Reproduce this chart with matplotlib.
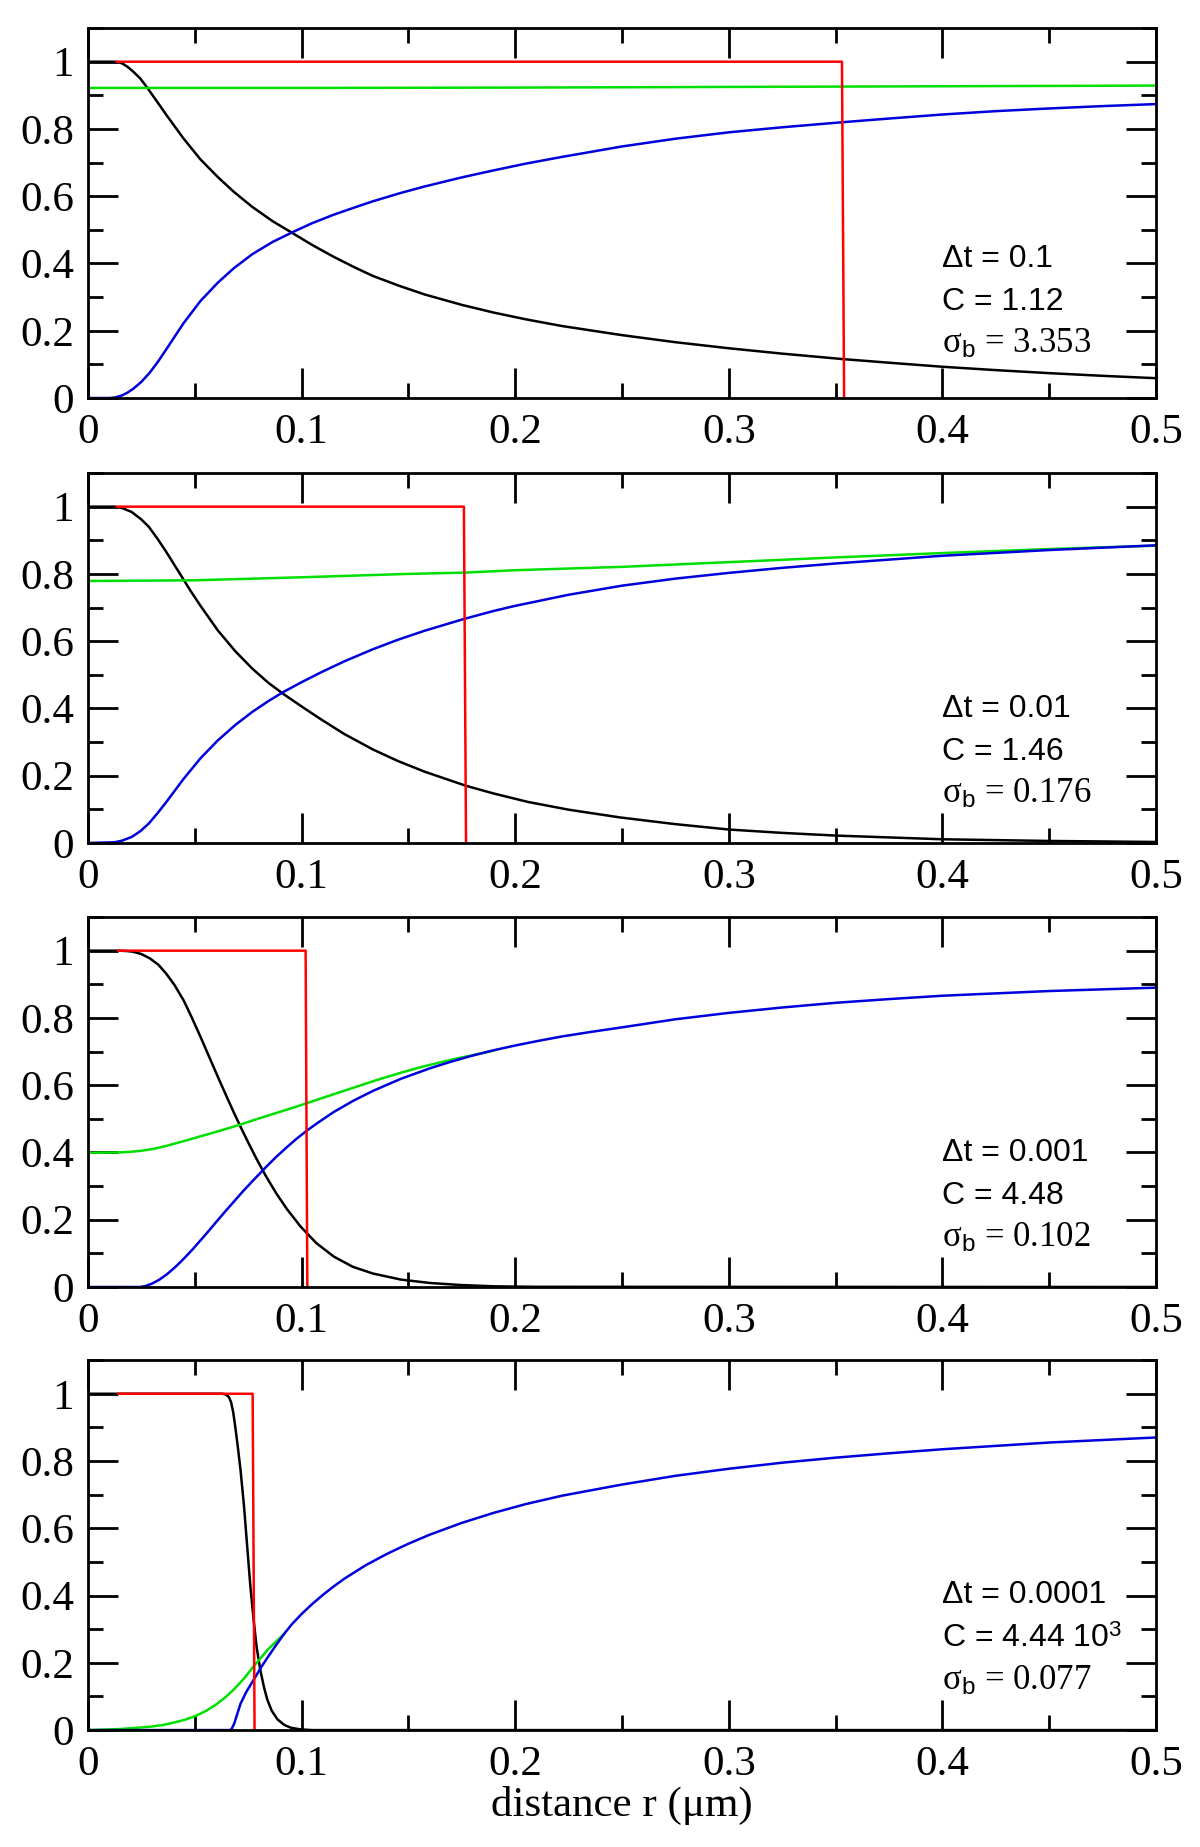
import matplotlib
matplotlib.use('Agg')
import matplotlib.pyplot as plt
from matplotlib.ticker import MultipleLocator

plt.rcParams['font.family'] = ['Liberation Serif', 'DejaVu Serif']
plt.rcParams['mathtext.fontset'] = 'custom'
plt.rcParams['mathtext.rm'] = 'Liberation Serif'
plt.rcParams['mathtext.it'] = 'Liberation Serif:italic'
plt.rcParams['mathtext.sf'] = 'Liberation Sans'

# values, one set per panel (x in um)
p1_black_x = [0, 0.012, 0.014, 0.016, 0.0185, 0.0213, 0.0245, 0.0275, 0.0325, 0.0369, 0.0447, 0.0526,
              0.0608, 0.0683, 0.077, 0.0864, 0.0964, 0.105, 0.115, 0.125, 0.1334, 0.146, 0.1576, 0.175,
              0.19, 0.205, 0.222, 0.25, 0.275, 0.3, 0.325, 0.353, 0.375, 0.4, 0.425, 0.45, 0.475, 0.5]
p1_black_y = [1, 1, 0.999, 0.995, 0.985, 0.97, 0.95, 0.925, 0.88, 0.84, 0.772, 0.71,
              0.657, 0.613, 0.568, 0.526, 0.488, 0.455, 0.42, 0.388, 0.363, 0.333, 0.308, 0.277,
              0.254, 0.234, 0.214, 0.187, 0.166, 0.148, 0.132, 0.116, 0.105, 0.093, 0.083, 0.074, 0.066, 0.059]
p1_red_x = [0.0135, 0.353, 0.354]
p1_red_y = [1, 1, 0]
p1_green_x = [0, 0.1, 0.2, 0.3, 0.4, 0.5]
p1_green_y = [0.922, 0.922, 0.923, 0.925, 0.927, 0.929]
p1_blue_x = [0, 0.0103, 0.013, 0.016, 0.0185, 0.0213, 0.025, 0.029, 0.033, 0.0369, 0.0447, 0.0526,
             0.0608, 0.0683, 0.077, 0.0864, 0.0964, 0.105, 0.115, 0.125, 0.1334, 0.146, 0.1576, 0.175,
             0.19, 0.205, 0.222, 0.25, 0.275, 0.3, 0.325, 0.353, 0.375, 0.4, 0.425, 0.45, 0.475, 0.5]
p1_blue_y = [0, 0, 0.002, 0.008, 0.016, 0.028, 0.048, 0.076, 0.11, 0.147, 0.222, 0.288,
             0.343, 0.386, 0.428, 0.464, 0.495, 0.52, 0.545, 0.567, 0.585, 0.609, 0.629, 0.656,
             0.677, 0.697, 0.717, 0.748, 0.771, 0.79, 0.805, 0.82, 0.831, 0.843, 0.853, 0.861, 0.868, 0.874]

p2_black_x = [0, 0.0124, 0.016, 0.0205, 0.025, 0.0285, 0.0325, 0.0366, 0.0431, 0.048, 0.0527, 0.0608,
              0.069, 0.077, 0.0845, 0.0915, 0.1, 0.109, 0.12, 0.1334, 0.145, 0.1576, 0.177, 0.19,
              0.206, 0.225, 0.249, 0.275, 0.3, 0.325, 0.35, 0.4, 0.45, 0.5]
p2_black_y = [1, 1, 0.996, 0.984, 0.962, 0.94, 0.905, 0.866, 0.8, 0.75, 0.705, 0.632,
              0.57, 0.518, 0.476, 0.443, 0.406, 0.368, 0.324, 0.278, 0.244, 0.212, 0.17, 0.147,
              0.122, 0.099, 0.076, 0.056, 0.04, 0.03, 0.022, 0.011, 0.006, 0.003]
p2_red_x = [0.0135, 0.176, 0.177]
p2_red_y = [1, 1, 0]
p2_green_x = [0, 0.05, 0.1, 0.15, 0.177, 0.2, 0.25, 0.3, 0.35, 0.4, 0.45, 0.5]
p2_green_y = [0.779, 0.781, 0.79, 0.8, 0.804, 0.811, 0.821, 0.835, 0.849, 0.862, 0.874, 0.884]
p2_blue_x = [0, 0.0124, 0.016, 0.0205, 0.0245, 0.0285, 0.0325, 0.0366, 0.0447, 0.0527, 0.0608, 0.069,
             0.077, 0.0845, 0.0915, 0.1, 0.109, 0.12, 0.1334, 0.145, 0.1576, 0.176, 0.19, 0.2,
             0.225, 0.25, 0.275, 0.3, 0.325, 0.35, 0.4, 0.45, 0.5]
p2_blue_y = [0, 0.002, 0.007, 0.018, 0.035, 0.058, 0.088, 0.121, 0.19, 0.252, 0.305, 0.351,
             0.39, 0.422, 0.449, 0.478, 0.507, 0.54, 0.576, 0.604, 0.631, 0.666, 0.69, 0.705,
             0.738, 0.765, 0.786, 0.803, 0.818, 0.831, 0.854, 0.871, 0.885]

p3_black_x = [0, 0.0145, 0.018, 0.021, 0.025, 0.029, 0.033, 0.0366, 0.0405, 0.0448, 0.0487, 0.0526,
              0.0567, 0.0608, 0.065, 0.0682, 0.0713, 0.075, 0.079, 0.0831, 0.088, 0.093, 0.0995, 0.107,
              0.1152, 0.124, 0.1334, 0.1465, 0.16, 0.174, 0.19, 0.21, 0.5]
p3_black_y = [1, 1, 0.999, 0.997, 0.99, 0.977, 0.958, 0.932, 0.898, 0.852, 0.8, 0.745,
              0.685, 0.625, 0.565, 0.52, 0.478, 0.43, 0.38, 0.332, 0.28, 0.233, 0.18, 0.13,
              0.09, 0.06, 0.04, 0.022, 0.012, 0.006, 0.002, 0.0005, 0]
p3_red_x = [0.0142, 0.1019, 0.1027]
p3_red_y = [1, 1, 0]
p3_green_x = [0, 0.0142, 0.02, 0.025, 0.031, 0.037, 0.045, 0.0527, 0.062, 0.0714, 0.079, 0.087,
              0.095, 0.1027, 0.114, 0.125, 0.136, 0.1465, 0.156, 0.165, 0.173, 0.18, 0.19]
p3_green_y = [0.399, 0.4, 0.402, 0.405, 0.411, 0.42, 0.434, 0.448, 0.465, 0.483, 0.499, 0.515,
              0.531, 0.547, 0.571, 0.594, 0.617, 0.637, 0.654, 0.668, 0.68, 0.689, 0.703]
p3_blue_x = [0, 0.0244, 0.027, 0.03, 0.0335, 0.037, 0.041, 0.045, 0.049, 0.0526, 0.0567, 0.0608,
             0.065, 0.0682, 0.0725, 0.0775, 0.0831, 0.088, 0.093, 0.0975, 0.1027, 0.108, 0.115, 0.124,
             0.1334, 0.1465, 0.16, 0.17, 0.18, 0.19, 0.2, 0.211, 0.222, 0.235, 0.25, 0.275,
             0.3, 0.325, 0.35, 0.375, 0.4, 0.45, 0.5]
p3_blue_y = [0, 0, 0.003, 0.01, 0.022, 0.038, 0.06, 0.085, 0.112, 0.138, 0.168, 0.199,
             0.23, 0.253, 0.284, 0.318, 0.355, 0.386, 0.415, 0.44, 0.466, 0.49, 0.52, 0.553,
             0.583, 0.619, 0.65, 0.67, 0.688, 0.704, 0.718, 0.732, 0.745, 0.758, 0.772, 0.796,
             0.815, 0.831, 0.845, 0.856, 0.866, 0.88, 0.89]

p4_black_x = [0, 0.0629, 0.0645, 0.066, 0.067, 0.068, 0.069, 0.0702, 0.0714, 0.073, 0.0745, 0.076,
              0.0776, 0.079, 0.0808, 0.0825, 0.084, 0.086, 0.0887, 0.092, 0.095, 0.0995, 0.105, 0.5]
p4_black_y = [1, 1, 0.998, 0.99, 0.975, 0.945, 0.9, 0.84, 0.775, 0.67, 0.55, 0.43,
              0.325, 0.245, 0.175, 0.125, 0.09, 0.058, 0.032, 0.015, 0.007, 0.002, 0, 0]
p4_red_x = [0.0142, 0.0771, 0.078]
p4_red_y = [1, 1, 0]
p4_green_x = [0, 0.015, 0.0291, 0.035, 0.04, 0.045, 0.05, 0.055, 0.06, 0.064, 0.0682, 0.073,
              0.0776, 0.081, 0.084, 0.088, 0.0917]
p4_green_y = [0, 0.003, 0.01, 0.015, 0.022, 0.03, 0.041, 0.056, 0.076, 0.096, 0.12, 0.153,
              0.19, 0.215, 0.238, 0.263, 0.285]
p4_blue_x = [0, 0.0667, 0.0675, 0.0685, 0.07, 0.0714, 0.074, 0.0776, 0.081, 0.084, 0.088, 0.0917,
             0.0955, 0.1, 0.105, 0.11, 0.115, 0.12, 0.13, 0.14, 0.15, 0.16, 0.175, 0.19,
             0.205, 0.222, 0.25, 0.275, 0.3, 0.325, 0.35, 0.375, 0.4, 0.45, 0.5]
p4_blue_y = [0, 0, 0.006, 0.02, 0.05, 0.078, 0.112, 0.15, 0.186, 0.215, 0.252, 0.285,
             0.315, 0.345, 0.375, 0.402, 0.427, 0.45, 0.49, 0.524, 0.554, 0.581, 0.616, 0.646,
             0.672, 0.697, 0.73, 0.756, 0.777, 0.795, 0.81, 0.823, 0.835, 0.855, 0.87]

dt_labels = ['0.1', '0.01', '0.001', '0.0001']
c_labels = ['1.12', '1.46', '4.48', r'4.44 10$^{\mathsf{3}}$']
sigma_labels = ['3.353', '0.176', '0.102', '0.077']

x_ticks = [0, 0.1, 0.2, 0.3, 0.4, 0.5]
x_tick_labels = ['0', '0.1', '0.2', '0.3', '0.4', '0.5']
y_ticks = [0, 0.2, 0.4, 0.6, 0.8, 1.0]
y_tick_labels = ['0', '0.2', '0.4', '0.6', '0.8', '1']

panels = [
    (p1_black_x, p1_black_y, p1_red_x, p1_red_y, p1_green_x, p1_green_y, p1_blue_x, p1_blue_y),
    (p2_black_x, p2_black_y, p2_red_x, p2_red_y, p2_green_x, p2_green_y, p2_blue_x, p2_blue_y),
    (p3_black_x, p3_black_y, p3_red_x, p3_red_y, p3_green_x, p3_green_y, p3_blue_x, p3_blue_y),
    (p4_black_x, p4_black_y, p4_red_x, p4_red_y, p4_green_x, p4_green_y, p4_blue_x, p4_blue_y),
]
text_y = [(0.39, 0.262, 0.134), (0.375, 0.247, 0.12), (0.375, 0.247, 0.12), (0.378, 0.247, 0.119)]
bottoms = [0.7845, 0.5436, 0.3032, 0.0633]

fig = plt.figure(figsize=(12, 18.47), dpi=100)

for i, (bx, by, rx, ry, gx, gy, ux, uy) in enumerate(panels):
    ax = fig.add_axes([0.0733, bottoms[i], 0.89, 0.2003])
    lw = 1.8
    ax.plot(bx, by, color='black', lw=lw)
    ax.plot(gx, gy, color='#00e000', lw=lw)
    ax.plot(ux, uy, color='#0000dd', lw=lw)
    ax.plot(rx, ry, color='#ff0000', lw=lw)

    ax.set_xlim(0, 0.5)
    ax.set_ylim(0, 1.1)
    ax.set_xticks(x_ticks, x_tick_labels)
    ax.set_yticks(y_ticks, y_tick_labels)
    ax.xaxis.set_minor_locator(MultipleLocator(0.05))
    ax.yaxis.set_minor_locator(MultipleLocator(0.1))
    ax.tick_params(which='both', direction='in', top=True, right=True, width=2, labelsize=31)
    ax.tick_params(which='major', length=21.6)
    ax.tick_params(which='minor', length=10.8)
    ax.tick_params(axis='x', pad=11)
    ax.tick_params(axis='y', pad=10)
    for s in ax.spines.values():
        s.set_linewidth(2)

    t1, t2, t3 = text_y[i]
    sans = ['Liberation Sans', 'DejaVu Sans']
    ax.text(0.40, t1, '\u0394t = ' + dt_labels[i], family=sans, fontsize=23)
    ax.text(0.40, t2, 'C = ' + c_labels[i], family=sans, fontsize=23)
    ax.text(0.40, t3, r'$\mathrm{\sigma}_{\mathsf{b}}$ = ' + sigma_labels[i],
            family='Liberation Serif', fontsize=25)

fig.text(0.5183, 0.0227, 'distance r (\u03bcm)', ha='center', va='center', fontsize=31)

fig.savefig('out.png', dpi=100)
